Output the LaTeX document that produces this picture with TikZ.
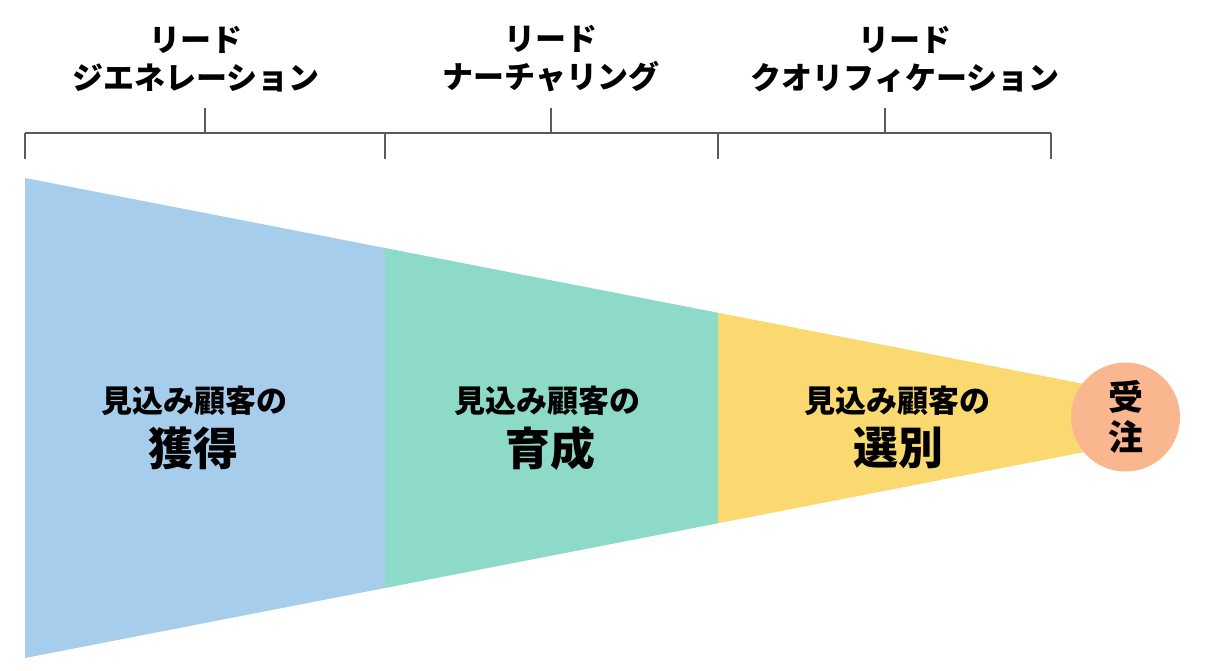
\documentclass[tikz,border=0pt]{standalone}
\usepackage{fontspec}
\newfontfamily\jp{Noto Sans CJK JP}
\definecolor{segblue}{RGB}{167,205,236}
\definecolor{segteal}{RGB}{140,218,199}
\definecolor{segyellow}{RGB}{251,217,113}
\definecolor{goalorange}{RGB}{250,182,142}
\definecolor{bracketgray}{RGB}{90,90,90}
\begin{document}
\begin{tikzpicture}[x=1pt,y=-1pt,
  bracket/.style={draw=bracketgray, line width=1.3pt},
  toplabel/.style={font=\jp\bfseries\fontsize{31}{38}\selectfont, align=center, inner sep=0pt},
  sublabel/.style={font=\jp\bfseries\fontsize{31}{32}\selectfont, inner sep=0pt},
  biglabel/.style={font=\jp\bfseries\fontsize{45}{46}\selectfont, inner sep=0pt},
  goal/.style={circle, fill=goalorange, minimum size=109pt, inner sep=0pt, align=center,
    font=\jp\bfseries\fontsize{35}{40}\selectfont}]
\useasboundingbox (0,0) rectangle (1226,670);
% funnel segments
\fill[segblue] (25,178) -- (385,248) -- (385,588) -- (25,658) -- cycle;
\fill[segteal] (385,248) -- (718,312.75) -- (718,523.25) -- (385,588) -- cycle;
\fill[segyellow] (718,312.75) -- (1125,391.9) -- (1125,444.1) -- (718,523.25) -- cycle;
% goal circle
\node[goal] (goal) at (1125.5,417) {受\\注};
% brackets
\coordinate (b0) at (25,133);
\coordinate (b1) at (385,133);
\coordinate (b2) at (718,133);
\coordinate (b3) at (1051,133);
\draw[bracket] (b0) -- (b3);
\draw[bracket] (b0) -- ++(0,26);
\draw[bracket] (b1) -- ++(0,26);
\draw[bracket] (b2) -- ++(0,26);
\draw[bracket] (b3) -- ++(0,26);
\coordinate (t1) at (205,133);
\coordinate (t2) at (551,133);
\coordinate (t3) at (885,133);
\draw[bracket] (t1) -- ++(0,-25);
\draw[bracket] (t2) -- ++(0,-25);
\draw[bracket] (t3) -- ++(0,-25);
% top labels
\node[toplabel] (lg) at (196,59) {リード\\ジエネレーション};
\node[toplabel] (ln) at (551,59) {リード\\ナーチャリング};
\node[toplabel] (lq) at (905,59) {リード\\クオリフィケーション};
% inner labels
\node[sublabel] (s1) at (194.5,401) {見込み顧客の};
\node[biglabel] (m1) at (193,448) {獲得};
\node[sublabel] (s2) at (547,401) {見込み顧客の};
\node[biglabel] (m2) at (550,448) {育成};
\node[sublabel] (s3) at (897,401) {見込み顧客の};
\node[biglabel] (m3) at (898,448) {選別};
\end{tikzpicture}
\end{document}
